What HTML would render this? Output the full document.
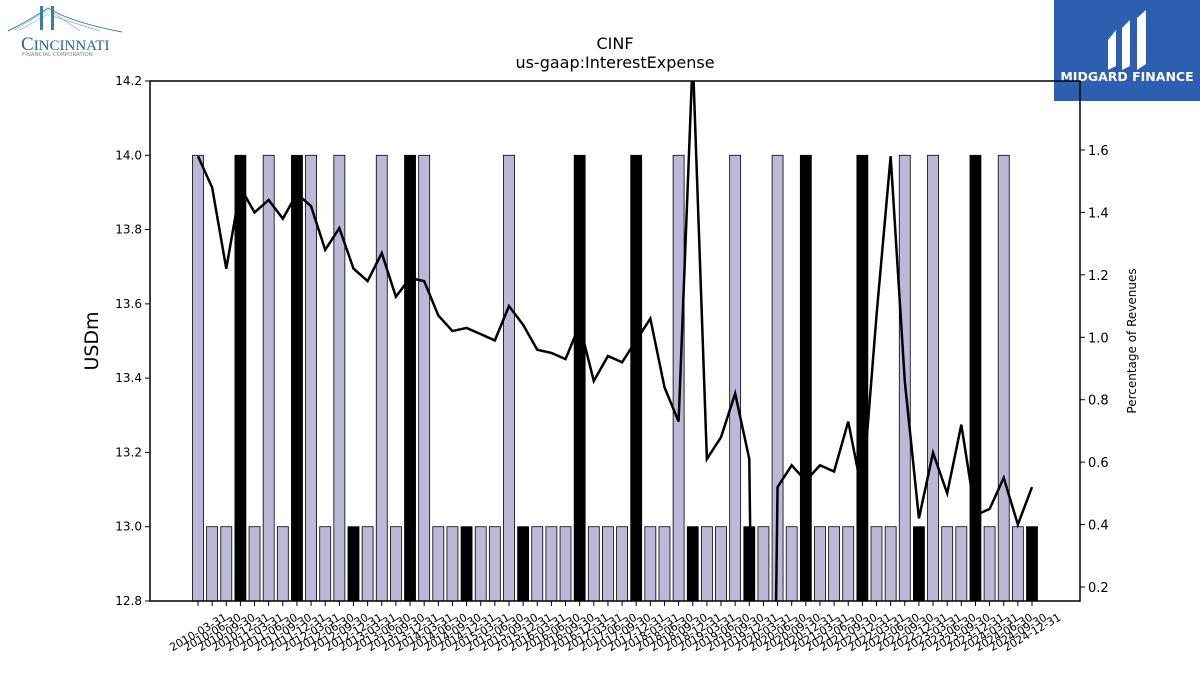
<!DOCTYPE html>
<html><head><meta charset="utf-8"><style>
html,body{margin:0;background:#fff;font-family:"DejaVu Sans","Liberation Sans",sans-serif;width:1200px;height:675px;overflow:hidden;}
#wrap{position:relative;width:1200px;height:675px;overflow:hidden;}
svg{display:block;}
</style></head><body><div id="wrap">
<svg id="chart" width="1200" height="675" xmlns="http://www.w3.org/2000/svg">
<g>
 <path d="M8 31 Q30 20 48 8 Q70 22 122 32" stroke="#3a7fa8" stroke-width="1" fill="none"/>
 <path d="M14 30 L48 10 M20 30 L48 14 M80 31 L52 12 M100 31 L52 16" stroke="#7fb0cc" stroke-width="0.7"/>
 <rect x="40" y="6" width="3" height="24" fill="#3a7fa8"/><rect x="51" y="6" width="3" height="24" fill="#3a7fa8"/>
 <text x="21" y="50" font-family="Liberation Serif,serif" font-size="19" fill="#24688f">C<tspan font-size="15">INCINNATI</tspan></text>
 <text x="22" y="56" font-size="5.5" fill="#888">FINANCIAL CORPORATION</text>
</g>
<g>
 <rect x="1054" y="0" width="146" height="101" fill="#2d5fb0"/>
 <path d="M1108 40 L1116 30 L1116 66 L1108 70 Z M1122 28 L1130 20 L1130 66 L1122 70 Z M1137 18 L1146 10 L1146 64 L1137 70 Z" fill="#fff"/>
 <text x="1127" y="81" text-anchor="middle" font-size="12.5" font-weight="bold" fill="#fff">MIDGARD FINANCE</text>
</g>
<text x="615" y="49" text-anchor="middle" font-size="16">CINF</text>
<text x="615" y="68" text-anchor="middle" font-size="16">us-gaap:InterestExpense</text>
<text transform="translate(98,341) rotate(-90)" text-anchor="middle" font-size="19">USDm</text>
<text transform="translate(1136,341) rotate(-90)" text-anchor="middle" font-size="12">Percentage of Revenues</text>
<defs><clipPath id="pc"><rect x="150" y="81" width="930" height="520"/></clipPath></defs>
<g id="bars"></g><g id="line" clip-path="url(#pc)"></g><g id="axes"></g>
</svg></div>
<script>
const categories=[];
for(let y=2010;y<=2024;y++){for(const q of ["03-31","06-30","09-30","12-31"])categories.push(y+"-"+q);}
const barValues=[14,13,13,14,13,14,13,14,14,13,14,13,13,14,13,14,14,13,13,13,13,13,14,13,13,13,13,14,13,13,13,14,13,13,14,13,13,13,14,13,13,14,13,14,13,13,13,14,13,13,14,13,14,13,13,14,13,14,13,13];
const pctValues=[1.58,1.48,1.22,1.48,1.40,1.44,1.38,1.46,1.42,1.28,1.35,1.22,1.18,1.27,1.13,1.19,1.18,1.07,1.02,1.03,1.01,0.99,1.10,1.04,0.96,0.95,0.93,1.04,0.86,0.94,0.92,0.99,1.06,0.84,0.73,1.9,0.61,0.68,0.82,0.61,-3,0.52,0.59,0.54,0.59,0.57,0.73,0.50,1.07,1.58,0.86,0.42,0.63,0.50,0.72,0.43,0.45,0.55,0.40,0.52];
const leftTicks=[12.8,13.0,13.2,13.4,13.6,13.8,14.0,14.2];
const rightTicks=[0.2,0.4,0.6,0.8,1.0,1.2,1.4,1.6];
const NS="http://www.w3.org/2000/svg";
const X0=150,X1=1080,Y0=81,Y1=601;
const xScale=i=>198+i*(1032-198)/(categories.length-1);
const yL=v=>Y1-(v-12.8)/(14.2-12.8)*(Y1-Y0);
const yR=v=>587-(v-0.2)/1.4*(587-150);
function mk(t,a,p){const e=document.createElementNS(NS,t);for(const k in a)e.setAttribute(k,a[k]);p.appendChild(e);return e;}
const bars=document.getElementById('bars'),line=document.getElementById('line'),axes=document.getElementById('axes');
barValues.forEach((v,i)=>{
 const x=xScale(i);const blk=i%4===3;
 const r=mk('rect',{x:x-5.5,y:yL(v),width:11,height:Y1-yL(v),fill:blk?'#000':'#bcb8d8',stroke:'#000','stroke-width':0.8},bars);
 
 
});
const pl=mk('polyline',{points:pctValues.map((v,i)=>xScale(i)+','+yR(v)).join(' '),fill:'none',stroke:'#000','stroke-width':2.5},line);


const fr=mk('rect',{x:X0,y:Y0,width:X1-X0,height:Y1-Y0,fill:'none',stroke:'#000','stroke-width':1.5},axes);


leftTicks.forEach(t=>{const y=yL(t);mk('line',{x1:X0-5,x2:X0,y1:y,y2:y,stroke:'#000'},axes);
 const tx=mk('text',{x:X0-8,y:y+4,'text-anchor':'end','font-size':12},axes);tx.textContent=t.toFixed(1);
 
 });
rightTicks.forEach(t=>{const y=yR(t);mk('line',{x1:X1,x2:X1+5,y1:y,y2:y,stroke:'#000'},axes);
 const tx=mk('text',{x:X1+8,y:y+5,'font-size':13},axes);tx.textContent=t.toFixed(1);
 
 });
categories.forEach((c,i)=>{const x=xScale(i);mk('line',{x1:x,x2:x,y1:Y1,y2:Y1+5,stroke:'#000'},axes);
 const tx=mk('text',{transform:`translate(${x},${Y1+31}) rotate(-30)`,'text-anchor':'middle','font-size':11,y:4},axes);tx.textContent=c;
 
 });
</script></body></html>
